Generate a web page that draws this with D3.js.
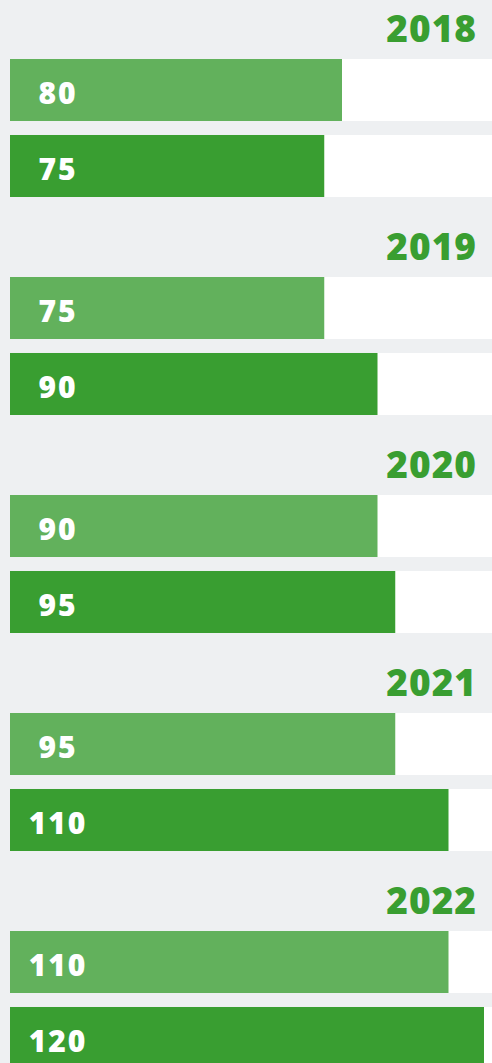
<!DOCTYPE html>
<html>
<head>
<meta charset="utf-8">
<script src="https://cdn.jsdelivr.net/npm/d3@7"></script>
<style>
  body { margin: 0; background: #eef0f2; }
  svg { display: block; }
</style>
</head>
<body>
<svg width="492" height="1063"></svg>
<script>
let years = ["2018", "2019", "2020", "2021", "2022"];
let series = ["first", "second"];
let firstValues = [80, 75, 90, 95, 110];
let secondValues = [75, 90, 95, 110, 120];

function drawBars() {
  let svg = d3.select("svg");

  let rows = years.map((y, i) => ({year: y, first: firstValues[i], second: secondValues[i]}));

  // one block per year
  let groupScale = d3.scaleBand().domain(years).range([0, 1090]);
  let barScale = d3.scaleBand().domain(series).range([59, 197]).paddingInner(0.184);
  let widthScale = d3.scaleLinear().domain([0, 120]).range([48, 474]);

  let fillScale = d3.scaleOrdinal()
    .domain(series)
    .range(["#62b15c", "#399e31"]);

  svg.append("rect")
    .attr("width", 492)
    .attr("height", 1063)
    .style("fill", "#eef0f2");

  let groups = svg.selectAll("g.year")
    .data(rows)
    .join("g")
    .attr("class", "year")
    .attr("transform", d => `translate(0,${groupScale(d.year)})`);

  groups.append("text")
    .attr("x", 477)
    .attr("y", 42)
    .attr("text-anchor", "end")
    .style("font-family", "'Open Sans', sans-serif")
    .style("font-weight", 800)
    .style("font-size", "37px")
    .style("letter-spacing", "1px")
    .style("fill", "#399e31")
    .text(d => d.year);

  groups.each(function(d) {
    let g = d3.select(this);
    let bars = g.selectAll("g.bar")
      .data(series.map(k => ({key: k, value: d[k]})))
      .join("g")
      .attr("class", "bar");

    // white track behind each bar
    bars.append("rect")
      .attr("x", 10)
      .attr("y", p => barScale(p.key))
      .attr("width", 482)
      .attr("height", barScale.bandwidth())
      .style("fill", "#ffffff");

    bars.append("rect")
      .attr("x", 10)
      .attr("y", p => barScale(p.key))
      .attr("width", p => widthScale(p.value))
      .attr("height", barScale.bandwidth())
      .style("fill", p => fillScale(p.key));

    bars.append("text")
      .attr("x", 58)
      .attr("y", p => barScale(p.key) + barScale.bandwidth() / 2 + 14)
      .attr("text-anchor", "middle")
      .style("font-family", "'Open Sans', sans-serif")
      .style("font-weight", 800)
      .style("font-size", "30px")
      .style("letter-spacing", "2px")
      .style("fill", "#ffffff")
      .text(p => p.value);
  });
}

drawBars();
</script>
</body>
</html>
